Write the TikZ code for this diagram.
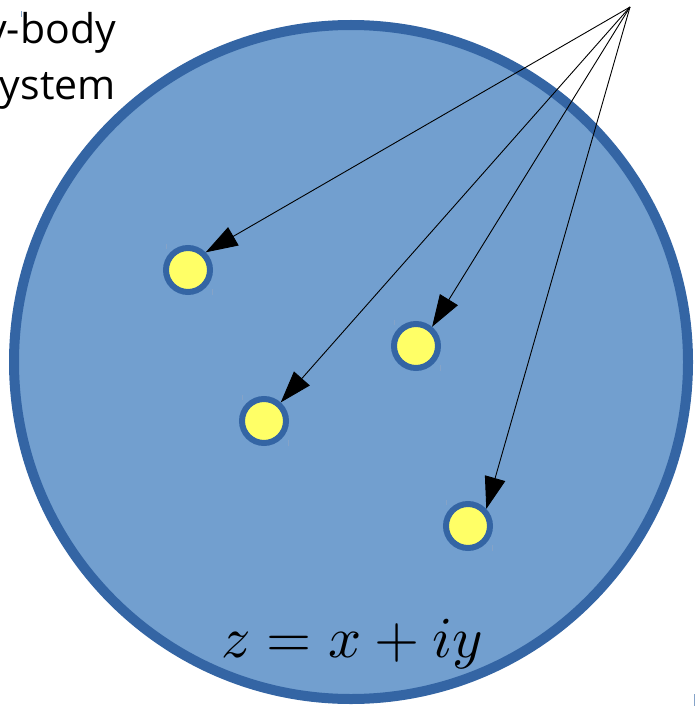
\documentclass[tikz,border=0pt]{standalone}
\usepackage{fontspec}
\newfontfamily\labelfont{Open Sans}
\usetikzlibrary{arrows.meta,positioning,calc}
\definecolor{diskfill}{RGB}{114,159,207}
\definecolor{diskline}{RGB}{52,101,164}
\definecolor{bodyfill}{RGB}{255,255,102}

\begin{document}
\begin{tikzpicture}[x=1pt,y=-1pt,
  disk/.style={circle, draw=diskline, fill=diskfill, line width=10pt,
               minimum size=674pt, inner sep=0pt},
  body/.style={circle, draw=diskline, fill=bodyfill, line width=6pt,
               minimum size=44pt, inner sep=0pt},
  ptr/.style={-{Triangle[length=32pt,width=21pt]}, line width=0.9pt},
  lbl/.style={font=\labelfont\fontsize{41}{56}\selectfont, align=right, inner sep=0pt},
  tick/.style={draw=diskline!60, line width=0.8pt},
]
\useasboundingbox (0,0) rectangle (697,706);
\node[disk] (D) at (351,362) {};
\node[lbl, anchor=north east] (name) at (116,12) {Many-body\\system};
\node[scale=5.8, inner sep=0pt, anchor=base] (eq) at (352,657) {$z = x + iy$};

\node[body] (p1) at (188,270) {};
\node[body] (p2) at (416,346) {};
\node[body] (p3) at (264,421) {};
\node[body] (p4) at (468,526) {};

\coordinate (src) at (630,7);
\draw[ptr] (src) -- (p1.45);
\draw[ptr] (src) -- (p2.50);
\draw[ptr] (src) -- (p3.48);
\draw[ptr] (src) -- (p4.43);

% little handles
\foreach \p in {p1,p2,p3,p4} {
  \draw[tick] ($(\p)+(-22,-26)$) -- ($(\p)+(-22,-21)$);
  \draw[tick] ($(\p)+(24,19)$) -- ($(\p)+(24,25)$);
}
\draw[tick] (21,11) -- (21,17);
\draw[tick] (694,694) -- (694,706);
\end{tikzpicture}
\end{document}
